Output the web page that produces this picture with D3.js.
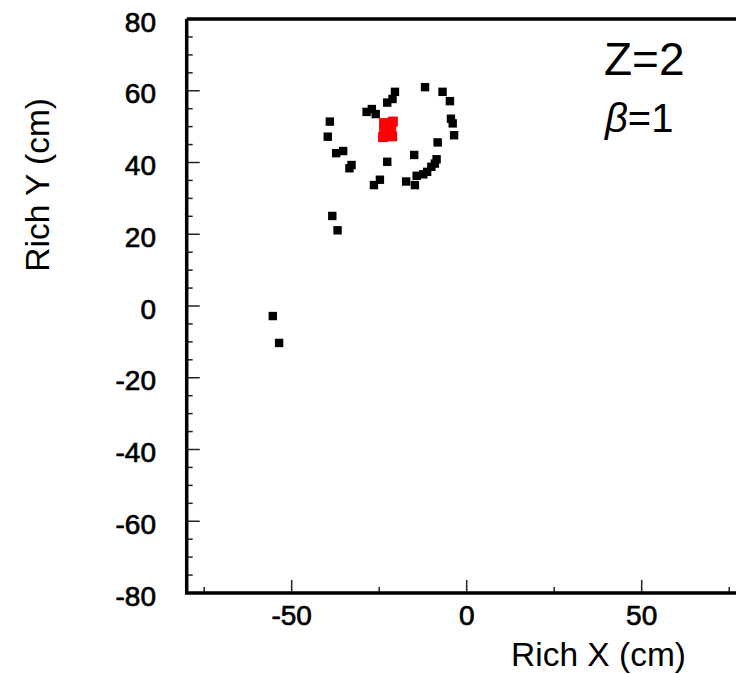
<!DOCTYPE html>
<html>
<head>
<meta charset="utf-8">
<title>Rich hits</title>
<script src="https://cdn.jsdelivr.net/npm/d3@7"></script>
<style>
  body { margin: 0; background: #ffffff; }
  svg { display: block; }
</style>
</head>
<body>
<div id="richChart"></div>
<script>
// hit positions on the RICH plane (cm)
var hitX = [-11.9, -6.9, -4.8, -20.5, -21.2, -22.7, -27.1, -28.6, -26.0, -39.1,
            -39.7, -4.5, -4.0, -3.6, -8.3, -37.3, -35.3, -32.9, -33.5, -22.7,
            -15.0, -8.6, -9.1, -10.1, -11.3, -12.4, -14.3, -17.3, -14.8, -24.8,
            -26.5, -38.4, -36.9, -55.4, -53.6];
var hitY = [61.0, 59.7, 57.1, 59.7, 57.7, 56.7, 54.9, 54.1, 53.5, 51.4,
            47.2, 52.2, 50.9, 47.6, 45.6, 42.6, 43.2, 39.3, 38.4, 40.2,
            42.1, 40.9, 39.7, 38.8, 37.4, 36.7, 36.3, 34.7, 33.7, 35.2,
            33.7, 25.1, 21.1, -2.8, -10.3];
// charge cluster in red
var clusterX = [-23.6, -21.1, -23.6, -21.6, -23.9, -21.3, -22.5];
var clusterY = [51.0, 51.4, 49.0, 49.9, 47.1, 47.3, 48.5];

var xTicks = [-50, 0, 50];
var yTicks = [-80, -60, -40, -20, 0, 20, 40, 60, 80];
var labelZ = "Z=2";
var labelBeta = "=1";

(function IFEE() {
    'use strict';
    var w = 736;
    var h = 674;
    var font = "'Liberation Sans', Arial, Helvetica, sans-serif";

    var x = d3.scaleLinear().domain([-80, 80]).range([186.7, 746.7]);
    var y = d3.scaleLinear().domain([-80, 80]).range([593, 19]);

    var svg = d3.select("#richChart")
        .append("svg")
        .attr("width", w)
        .attr("height", h);

    svg.append("rect")
        .attr("width", w)
        .attr("height", h)
        .attr("fill", "#ffffff");

    // minor ticks
    var yMinor = d3.range(-80, 81, 5);
    var xMinor = d3.range(-75, 81, 25);

    svg.selectAll("line.ytick")
        .data(yMinor)
        .enter()
        .append("line")
        .attr("class", "ytick")
        .attr("x1", x(-80))
        .attr("x2", function (d) { return x(-80) + (d % 20 === 0 ? 13 : 6); })
        .attr("y1", function (d) { return y(d); })
        .attr("y2", function (d) { return y(d); })
        .attr("stroke", "#222")
        .attr("stroke-width", 1.5);

    svg.selectAll("line.xtick")
        .data(xMinor)
        .enter()
        .append("line")
        .attr("class", "xtick")
        .attr("x1", function (d) { return x(d); })
        .attr("x2", function (d) { return x(d); })
        .attr("y1", y(-80))
        .attr("y2", function (d) { return y(-80) - (d % 50 === 0 ? 13 : 6); })
        .attr("stroke", "#222")
        .attr("stroke-width", 1.5);

    // frame: left, bottom, top
    svg.append("path")
        .attr("d", "M" + x(-80) + "," + y(80) + "H" + w + "M" + x(-80) + "," + y(80) +
            "V" + y(-80) + "H" + w)
        .attr("fill", "none")
        .attr("stroke", "#000")
        .attr("stroke-width", 3.5);

    // tick labels (a bit heavier, like the reference)
    svg.selectAll("text.ylab")
        .data(yTicks)
        .enter()
        .append("text")
        .attr("class", "ylab")
        .attr("x", 156)
        .attr("y", function (d) { return y(d) + 12.5; })
        .attr("text-anchor", "end")
        .attr("font-family", font)
        .attr("font-size", "28px")
        .attr("fill", "#000")
        .attr("stroke", "#000")
        .attr("stroke-width", 0.7)
        .text(function (d) { return d; });

    svg.selectAll("text.xlab")
        .data(xTicks)
        .enter()
        .append("text")
        .attr("class", "xlab")
        .attr("x", function (d) { return x(d); })
        .attr("y", 625)
        .attr("text-anchor", "middle")
        .attr("font-family", font)
        .attr("font-size", "28px")
        .attr("fill", "#000")
        .attr("stroke", "#000")
        .attr("stroke-width", 0.7)
        .text(function (d) { return d; });

    // axis titles
    svg.append("text")
        .attr("x", 686)
        .attr("y", 666)
        .attr("text-anchor", "end")
        .attr("font-family", font)
        .attr("font-size", "33.5px")
        .text("Rich X (cm)");

    svg.append("text")
        .attr("transform", "translate(49,98) rotate(-90)")
        .attr("text-anchor", "end")
        .attr("font-family", font)
        .attr("font-size", "33.5px")
        .text("Rich Y (cm)");

    // hits
    var hits = d3.zip(hitX, hitY);
    svg.selectAll("rect.hit")
        .data(hits)
        .enter()
        .append("rect")
        .attr("class", "hit")
        .attr("x", function (d) { return x(d[0]) - 4.2; })
        .attr("y", function (d) { return y(d[1]) - 4.2; })
        .attr("width", 8.4)
        .attr("height", 8.4)
        .attr("fill", "#000");

    var cluster = d3.zip(clusterX, clusterY);
    svg.selectAll("rect.cl")
        .data(cluster)
        .enter()
        .append("rect")
        .attr("class", "cl")
        .attr("x", function (d) { return x(d[0]) - 5; })
        .attr("y", function (d) { return y(d[1]) - 5; })
        .attr("width", 10)
        .attr("height", 10)
        .attr("fill", "#ff0000");

    // labels in the pad
    svg.append("text")
        .attr("x", 604)
        .attr("y", 75)
        .attr("font-family", font)
        .attr("font-size", "46px")
        .text(labelZ);

    var beta = svg.append("text")
        .attr("x", 605)
        .attr("y", 132)
        .attr("font-family", font)
        .attr("font-size", "40px");
    beta.append("tspan")
        .attr("font-style", "italic")
        .text("\u03B2");
    beta.append("tspan")
        .text(labelBeta);
}());
</script>
</body>
</html>
